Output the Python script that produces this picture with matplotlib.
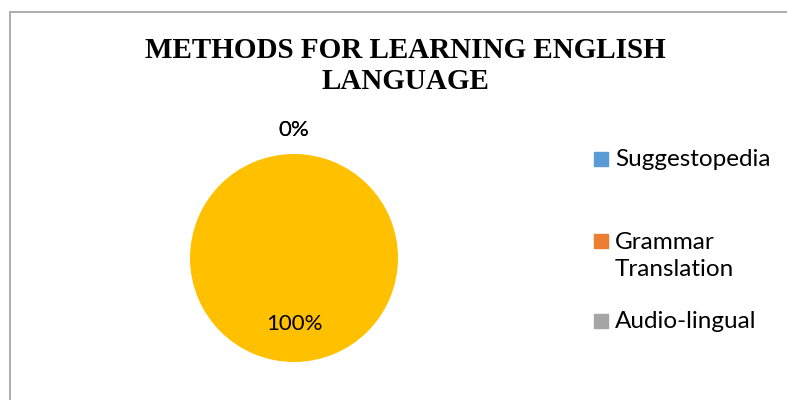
import matplotlib.pyplot as plt
from matplotlib.patches import Rectangle
import numpy as np

# data
categories = ['Suggestopedia', 'Grammar Translation', 'Audio-lingual', 'Other']
values = [0, 0, 0, 100]
colors = ['#5B9BD5', '#ED7D31', '#A5A5A5', '#FFC000']
legend_labels = ['Suggestopedia', 'Grammar\nTranslation', 'Audio-lingual']

W, H = 787, 400
fig = plt.figure(figsize=(W / 100, H / 100), dpi=100)

# chart border (cut off on right and bottom)
fig.patches.append(Rectangle((9.5 / W, -0.1), 2, (H - 11.5) / H + 0.1,
                             transform=fig.transFigure, fill=False,
                             edgecolor='#A0A0A0', linewidth=1.2))

# title
fig.text(405 / W, (H - 66) / H, 'METHODS FOR LEARNING ENGLISH\nLANGUAGE',
         ha='center', va='center', fontsize=21, fontweight='bold',
         family='Liberation Serif', linespacing=1.2)

# pie
cx, cy, r = 294, 258, 104
ax = fig.add_axes([(cx - r) / W, (H - cy - r) / H, 2 * r / W, 2 * r / H])
wedges, _ = ax.pie(values, colors=colors, startangle=90, counterclock=False,
                   wedgeprops=dict(linewidth=0))
ax.set_xlim(-1, 1)
ax.set_ylim(-1, 1)

# data labels (zero slices all sit at the top, draw that label once)
total = sum(values)
placed = set()
for w, v in zip(wedges, values):
    theta = np.deg2rad((w.theta1 + w.theta2) / 2)
    dist = 1.23 if v == 0 else 0.63
    x, y = dist * np.cos(theta), dist * np.sin(theta)
    key = (round(x, 3), round(y, 3))
    if key in placed:
        continue
    placed.add(key)
    ax.text(x, y, f'{v / total:.0%}', ha='center', va='center',
            fontsize=16, family='Lato')

# legend
leg_y = [159, 256, 321]
for lab, col, y in zip(legend_labels, colors, leg_y):
    first_y = y if '\n' not in lab else 241
    fig.patches.append(Rectangle((594 / W, (H - first_y - 7) / H), 14 / W, 14 / H,
                                 transform=fig.transFigure, color=col))
    fig.text(615 / W, (H - y) / H, lab, ha='left', va='center', fontsize=17.5,
             family='Lato', linespacing=1.4)

plt.savefig('out.png', dpi=100)
